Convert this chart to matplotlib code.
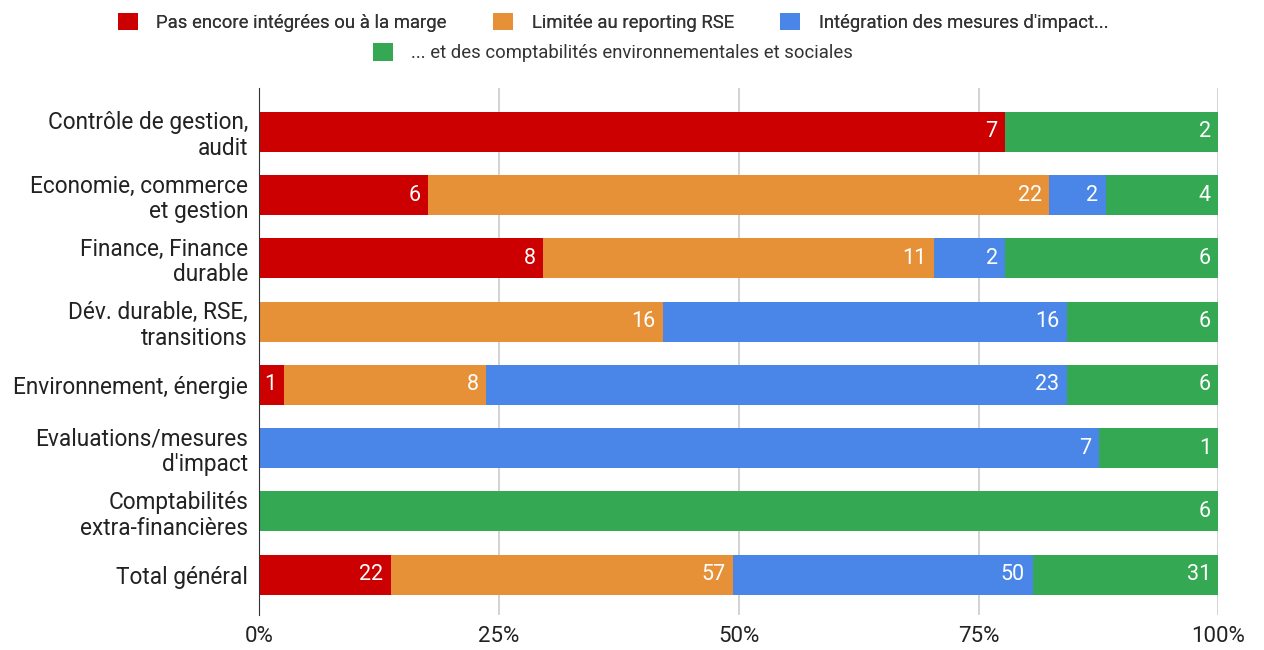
import numpy as np
import matplotlib.pyplot as plt
from matplotlib.patches import Patch

plt.rcParams['font.family'] = ['Roboto', 'DejaVu Sans']

categories = ["Contrôle de gestion,\naudit", "Economie, commerce\net gestion",
              "Finance, Finance\ndurable", "Dév. durable, RSE,\ntransitions",
              "Environnement, énergie", "Evaluations/mesures\nd'impact",
              "Comptabilités\nextra-financières", "Total général"]
series_names = ["Pas encore intégrées ou à la marge", "Limitée au reporting RSE",
                "Intégration des mesures d'impact...",
                "... et des comptabilités environnementales et sociales"]
pas_encore = [7, 6, 8, 0, 1, 0, 0, 22]
reporting = [0, 22, 11, 16, 8, 0, 0, 57]
impact = [0, 2, 2, 16, 23, 7, 0, 50]
comptas = [2, 4, 6, 6, 6, 1, 6, 31]
colors = ["#cc0000", "#e69138", "#4a86e8", "#34a853"]

data = np.array([pas_encore, reporting, impact, comptas], dtype=float)
totals = data.sum(axis=0)
pct = data / totals

fig = plt.figure(figsize=(12.64, 6.5), dpi=100)
ax = fig.add_axes([0.205, 0.054, 0.759, 0.811])

y = np.arange(len(categories))
left = np.zeros(len(categories))
for i in range(4):
    ax.barh(y, pct[i], left=left, height=0.632, color=colors[i], zorder=3)
    for j in range(len(categories)):
        if data[i, j] > 0:
            ax.text(left[j] + pct[i, j] - 0.008, y[j], str(int(data[i, j])),
                    ha='right', va='center', color='white', fontsize=15.5, zorder=4)
    left += pct[i]

ax.set_ylim(7.635, -0.695)
ax.set_xlim(0, 1)
ax.set_yticks(y)
ax.set_yticklabels(categories, fontsize=16.3, color='#222222', linespacing=1.15)
ax.set_xticks([0, 0.25, 0.5, 0.75, 1.0])
ax.set_xticklabels(["0%", "25%", "50%", "75%", "100%"], fontsize=16, color='#222222')
ax.tick_params(length=0, pad=8)
ax.xaxis.grid(True, color='#cccccc', linewidth=1.2, zorder=0)
for s in ['top', 'right', 'bottom']:
    ax.spines[s].set_visible(False)
ax.spines['left'].set_color('#333333')
ax.spines['left'].set_zorder(5)

handles = [Patch(facecolor=c) for c in colors]
leg1 = fig.legend(handles[:3], series_names[:3], loc='center', bbox_to_anchor=(0.485, 0.966),
                  ncol=3, frameon=False, fontsize=13.3, handlelength=1.1, handleheight=1.1,
                  columnspacing=2.5, handletextpad=1.0, labelcolor='#333333')
fig.legend(handles[3:], series_names[3:], loc='center', bbox_to_anchor=(0.485, 0.919),
           ncol=1, frameon=False, fontsize=13.3, handlelength=1.1, handleheight=1.1,
           handletextpad=1.0, labelcolor='#333333')
fig.add_artist(leg1)

fig.savefig("out.png", dpi=100)
